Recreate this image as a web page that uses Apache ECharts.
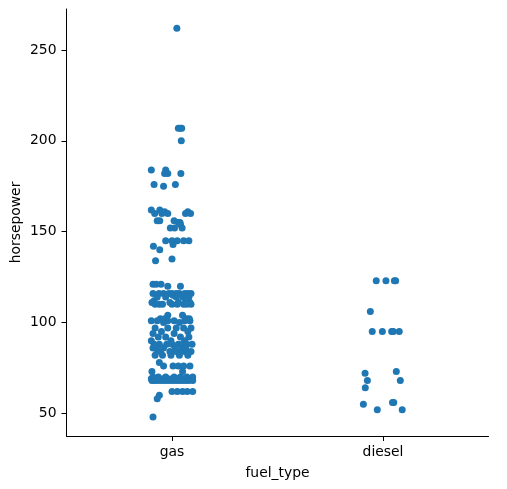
<!DOCTYPE html>
<html>
<head>
<meta charset="utf-8">
<script src="https://cdn.jsdelivr.net/npm/echarts@6/dist/echarts.min.js"></script>
<style>
html,body{margin:0;padding:0;background:#fff;}
#chart{width:507px;height:489px;}
</style>
</head>
<body>
<div id="chart"></div>
<script>
var categories = ['gas', 'diesel'];
var yTicks = [50, 100, 150, 200, 250];

// gas horsepower values and horizontal jitter (in category units)
var gasHp = [
  262,
  207, 207, 207,
  200,
  184, 184,
  182, 182, 182,
  176, 176,
  175,
  162, 162,
  161, 161,
  160, 160, 160, 160, 160,
  156, 156, 156,
  155, 155,
  154,
  152, 152, 152,
  145, 145, 145, 145, 145,
  143,
  142,
  140,
  135,
  134,
  121, 121, 121,
  120, 120,
  116, 116, 116, 116, 116, 116, 116, 116, 116, 116,
  115,
  114, 114, 114, 114, 114,
  112, 112,
  111, 111, 111, 111,
  110, 110, 110, 110, 110, 110, 110, 110,
  104, 104,
  102, 102, 102, 102,
  101, 101, 101, 101, 101, 101,
  100, 100,
  97, 97, 97, 97, 97,
  95, 95,
  94, 94,
  92, 92, 92, 92,
  90, 90, 90,
  88, 88, 88, 88, 88, 88, 88, 88,
  86, 86, 86, 86,
  85, 85,
  84, 84, 84, 84, 84,
  82, 82, 82, 82, 82,
  78,
  76, 76, 76, 76, 76,
  73, 73,
  70, 70, 70, 70, 70, 70, 70,
  69, 69, 69, 69, 69, 69, 69, 69, 69, 69,
  68, 68, 68, 68, 68, 68, 68, 68, 68, 68, 68, 68, 68, 68,
  62, 62, 62, 62, 62,
  60,
  58,
  48
];
var gasJitter = [
  0.023,
  0.030, 0.040, 0.046,
  0.044,
  -0.098, -0.030,
  -0.035, -0.020, 0.042,
  -0.085, 0.016,
  -0.040,
  -0.098, -0.058,
  -0.035, 0.075,
  -0.082, 0.088, -0.020, 0.064, -0.048,
  -0.070, -0.058, 0.010,
  0.030, 0.038,
  0.040,
  -0.008, 0.012, 0.048,
  -0.030, 0.000, 0.025, 0.055, 0.080,
  0.005,
  -0.088,
  -0.058,
  0.000,
  -0.078,
  -0.090, -0.075, -0.052,
  0.040, -0.020,
  -0.090, -0.062, -0.040, -0.015, 0.000, 0.020, 0.035, 0.060, 0.075, 0.090,
  0.005,
  -0.070, -0.030, 0.050, 0.080, 0.020,
  -0.085, 0.065,
  -0.095, -0.010, 0.030, 0.085,
  -0.080, -0.060, -0.045, 0.000, 0.025, 0.055, 0.070, 0.090,
  -0.020, 0.050,
  -0.055, 0.070, 0.082, -0.035,
  -0.098, -0.070, -0.020, 0.010, 0.060, 0.085,
  -0.040, 0.035,
  -0.080, -0.020, 0.020, 0.055, 0.090,
  -0.050, 0.075,
  -0.090, 0.010,
  -0.065, -0.030, 0.040, 0.080,
  -0.098, -0.005, 0.060,
  -0.085, -0.060, -0.025, 0.000, 0.030, 0.050, 0.070, 0.095,
  -0.090, -0.040, 0.015, 0.065,
  -0.070, 0.045,
  -0.055, -0.010, 0.020, 0.060, 0.090,
  -0.080, -0.045, -0.005, 0.035, 0.075,
  -0.060,
  -0.040, 0.005, 0.030, 0.055, 0.085,
  -0.095, 0.050,
  -0.090, -0.065, -0.030, 0.010, 0.040, 0.070, 0.098,
  -0.098, -0.080, -0.060, -0.040, -0.020, 0.000, 0.025, 0.050, 0.075, 0.095,
  -0.095, -0.085, -0.070, -0.055, -0.040, -0.025, -0.010, 0.005, 0.020, 0.035, 0.050, 0.065, 0.080, 0.098,
  0.000, 0.025, 0.050, 0.072, 0.098,
  -0.060,
  -0.070,
  -0.090
];

// diesel horsepower values and jitter
var dieselHp = [123, 123, 123, 123, 106, 95, 95, 95, 95, 95, 73, 72, 68, 68, 64, 55, 56, 56, 52, 52];
var dieselJitter = [-0.032, 0.014, 0.054, 0.060, -0.060, -0.051, -0.003, 0.041, 0.049, 0.077, 0.063, -0.085, -0.074, 0.082, -0.084, -0.093, 0.051, 0.045, -0.027, 0.091];

function build(hp, jit, catIndex) {
  var out = [];
  for (var i = 0; i < hp.length; i++) out.push([catIndex + jit[i], hp[i]]);
  return out;
}
var points = build(gasHp, gasJitter, 0).concat(build(dieselHp, dieselJitter, 1));

var font = 'DejaVu Sans';
var chart = echarts.init(document.getElementById('chart'), null, {renderer: 'canvas'});
chart.setOption({
  animation: false,
  backgroundColor: '#ffffff',
  grid: {left: 66.5, right: 18.5, top: 9, bottom: 53, containLabel: false, outerBoundsMode: 'none'},
  xAxis: [{
    type: 'category',
    data: categories,
    boundaryGap: true,
    name: 'fuel_type',
    nameLocation: 'middle',
    nameGap: 30,
    nameMoveOverlap: false,
    nameTextStyle: {fontFamily: font, fontSize: 13.9, color: '#000'},
    axisLine: {show: true, onZero: false, lineStyle: {color: '#000', width: 1}},
    axisTick: {show: true, alignWithLabel: true, length: 5, lineStyle: {color: '#000', width: 1}},
    axisLabel: {fontFamily: font, fontSize: 13.9, color: '#000', margin: 9},
    splitLine: {show: false}
  }, {
    type: 'value',
    min: -0.5,
    max: 1.5,
    show: false
  }],
  yAxis: {
    type: 'value',
    min: 37.5,
    max: 272.6,
    name: 'horsepower',
    nameLocation: 'middle',
    nameGap: 43,
    nameMoveOverlap: false,
    nameTextStyle: {fontFamily: font, fontSize: 13.9, color: '#000'},
    axisLine: {show: true, onZero: false, lineStyle: {color: '#000', width: 1}},
    axisTick: {show: true, length: 5, lineStyle: {color: '#000', width: 1}, customValues: yTicks},
    axisLabel: {fontFamily: font, fontSize: 13.9, color: '#000', margin: 10, customValues: yTicks},
    splitLine: {show: false}
  },
  series: [{
    type: 'scatter',
    xAxisIndex: 1,
    yAxisIndex: 0,
    data: points,
    symbol: 'circle',
    symbolSize: 7,
    itemStyle: {color: '#1f77b4', opacity: 1},
    emphasis: {disabled: true}
  }]
});
</script>
</body>
</html>
